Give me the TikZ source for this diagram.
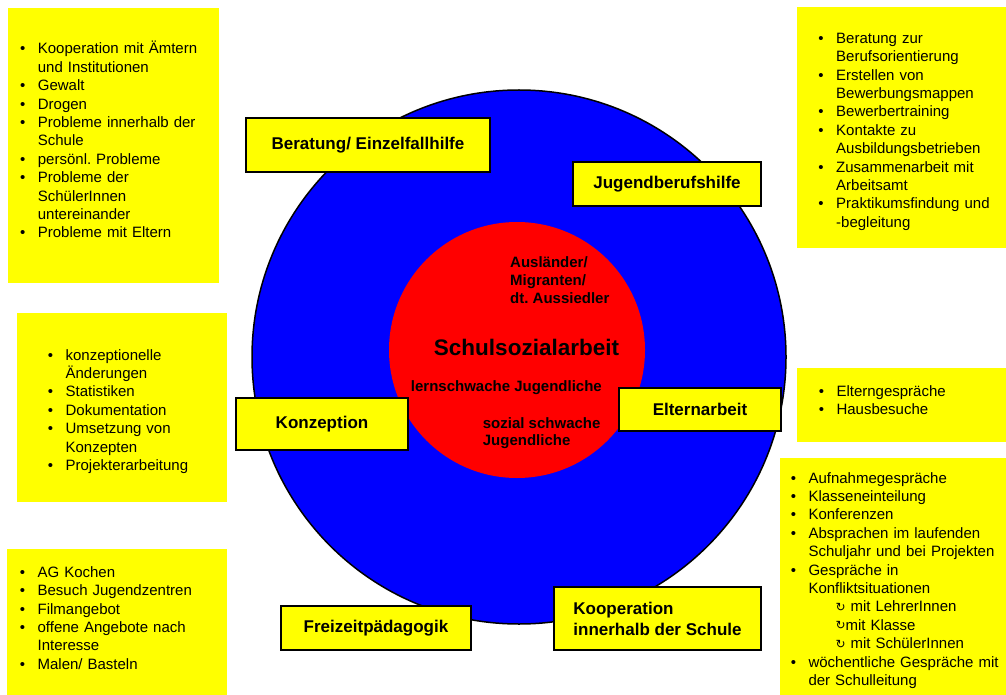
\documentclass[tikz,border=0pt]{standalone}
\usepackage{fontspec}
\setmainfont{Liberation Sans}
\newfontfamily\dingfont{DejaVu Sans}
\usepackage{enumitem}
\usetikzlibrary{positioning}
\setlist[itemize]{nosep,labelsep=12.5pt}
\frenchspacing
\def\listsize{\fontsize{15}{18.4}\selectfont}
\def\topicsize{\fontsize{17}{21}\selectfont\bfseries}
\def\groupsize{\fontsize{15}{18}\selectfont\bfseries}
\newcommand{\subarrow}{\hspace*{27pt}{\dingfont\fontsize{12}{12}\selectfont\raisebox{0.5pt}{↻}}}
\newcommand{\liftlist}[1]{\par\vspace*{#1}\hrule height 0pt}
\definecolor{lemon}{HTML}{ffff00}
\definecolor{royal}{HTML}{0000ff}
\definecolor{signal}{HTML}{ff0000}

\begin{document}
\begin{tikzpicture}[x=1pt,y=-1pt]
    \tikzstyle{listbox}=[rectangle,fill=lemon,inner sep=0pt,anchor=north west,font=\listsize,align=left]
    \tikzstyle{topic}=[rectangle,draw=black,line width=2pt,fill=lemon,inner sep=0pt,font=\topicsize]
    \tikzstyle{group}=[inner sep=0pt,anchor=west,font=\groupsize,align=left]
    \useasboundingbox (0,0) rectangle (1006,695);

    % Draw the circles
    \node[circle,draw=black,line width=1.5pt,fill=royal,minimum size=534pt,inner sep=0pt] (outer) at (519,357) {};
    \node[circle,fill=signal,minimum size=256pt,inner sep=0pt] (inner) at (517,350) {};

    % Target groups
    \node[inner sep=0pt,font=\fontsize{22.5}{26}\selectfont\bfseries] (hub) at (526.5,347) {Schulsozialarbeit};
    \node[group] (G-1) at (510,280) {Ausländer/\\Migranten/\\dt. Aussiedler};
    \node[group] (G-2) at (410.7,388) {lernschwache Jugendliche};
    \node[group,font=\fontsize{15}{17}\selectfont\bfseries] (G-3) at (482.7,433.5) {sozial schwache\\Jugendliche};

    % Fields of work
    \node[topic,minimum width=244pt,minimum height=54pt] (T-1) at (368,145) {Beratung/ Einzelfallhilfe};
    \node[topic,minimum width=188pt,minimum height=44pt] (T-2) at (667,184) {Jugendberufshilfe};
    \node[topic,minimum width=172pt,minimum height=52pt] (T-3) at (322,424) {Konzeption};
    \node[topic,minimum width=162pt,minimum height=43pt] (T-4) at (700,409.5) {Elternarbeit};
    \node[topic,minimum width=190pt,minimum height=44pt] (T-5) at (376,628) {Freizeitpädagogik};
    \node[topic,minimum width=207pt,minimum height=63pt,align=left] (T-6) at (657.5,618.5) {Kooperation\\innerhalb der Schule};

    % Task lists
    \node[listbox,minimum width=211pt,minimum height=275pt,text width=211pt] (L-1) at (8,8) {%
        \begin{itemize}[leftmargin=29.7pt]
        \item Kooperation mit Ämtern\newline und Institutionen
        \item Gewalt
        \item Drogen
        \item Probleme innerhalb der\newline Schule
        \item persönl. Probleme
        \item Probleme der\newline SchülerInnen\newline untereinander
        \item Probleme mit Eltern
        \end{itemize}\liftlist{18pt}};
    \node[listbox,minimum width=215pt,minimum height=241pt,text width=215pt] (L-2) at (797,7) {%
        \begin{itemize}[leftmargin=39pt]
        \item Beratung zur\newline Berufsorientierung
        \item Erstellen von\newline Bewerbungsmappen
        \item Bewerbertraining
        \item Kontakte zu\newline Ausbildungsbetrieben
        \item Zusammenarbeit mit\newline Arbeitsamt
        \item Praktikumsfindung und\newline -begleitung
        \end{itemize}};
    \node[listbox,minimum width=210pt,minimum height=189pt,text width=210pt] (L-3) at (17,313) {%
        \begin{itemize}[leftmargin=48.4pt]
        \item konzeptionelle\newline Änderungen
        \item Statistiken
        \item Dokumentation
        \item Umsetzung von\newline Konzepten
        \item Projekterarbeitung
        \end{itemize}};
    \node[listbox,minimum width=215pt,minimum height=74pt,text width=215pt] (L-4) at (797,368) {%
        \begin{itemize}[leftmargin=39.3pt]
        \item Elterngespräche
        \item Hausbesuche
        \end{itemize}\liftlist{18pt}};
    \node[listbox,minimum width=232pt,minimum height=237pt,text width=232pt] (L-5) at (780,458) {%
        \begin{itemize}[leftmargin=28.3pt]
        \item Aufnahmegespräche
        \item Klasseneinteilung
        \item Konferenzen
        \item Absprachen im laufenden\newline Schuljahr und bei Projekten
        \item Gespräche in\newline Konfliktsituationen\newline
            \subarrow\ mit LehrerInnen\newline
            \subarrow mit Klasse\newline
            \subarrow\ mit SchülerInnen
        \item wöchentliche Gespräche mit\newline der Schulleitung
        \end{itemize}};
    \node[listbox,minimum width=220pt,minimum height=146pt,text width=220pt] (L-6) at (7,549) {%
        \begin{itemize}[leftmargin=30.4pt]
        \item AG Kochen
        \item Besuch Jugendzentren
        \item Filmangebot
        \item offene Angebote nach\newline Interesse
        \item Malen/ Basteln
        \end{itemize}\liftlist{16pt}};
\end{tikzpicture}
\end{document}
